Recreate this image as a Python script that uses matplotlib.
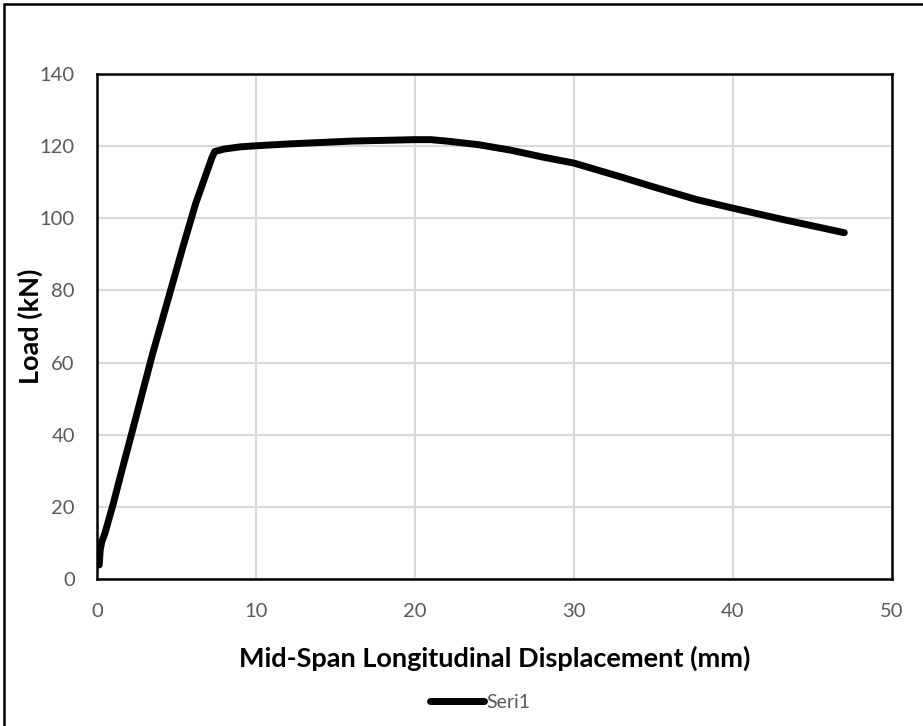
import matplotlib.pyplot as plt
from matplotlib.patches import Rectangle

# displacement (mm) and load (kN)
disp = [0.14, 0.2, 0.3, 0.5, 1.0, 1.5, 2.4, 3.5, 4.5, 5.4, 6.2, 6.8, 7.1, 7.2, 7.4,
        8.0, 9.0, 10.0, 12.0, 14.0, 16.0, 18.0, 20.0, 21.0, 22.0, 24.0, 26.0,
        28.0, 30.0, 33.0, 35.0, 37.7, 40.0, 43.0, 45.0, 47.0]
load = [3.9, 8.0, 10.3, 12.7, 20.5, 29.0, 44.0, 62.5, 78.0, 92.0, 104.0, 111.5,
        115.2, 116.5, 118.5, 119.2, 119.8, 120.1, 120.6, 121.0, 121.4, 121.6,
        121.8, 121.8, 121.4, 120.4, 118.9, 117.0, 115.3, 111.4, 108.7, 105.2,
        102.8, 99.8, 97.9, 96.0]

xticks = [0, 10, 20, 30, 40, 50]
yticks = [0, 20, 40, 60, 80, 100, 120, 140]

plt.rcParams['font.family'] = ['Lato', 'DejaVu Sans']

fig = plt.figure(figsize=(9.23, 7.26), dpi=100)
ax = fig.add_axes([97 / 923, 1 - 579 / 726, 795 / 923, 505 / 726])

line, = ax.plot(disp, load, color='black', linewidth=5, solid_capstyle='round',
                solid_joinstyle='round', label='Seri1')

ax.set_xlim(0, 50)
ax.set_ylim(0, 140)
ax.set_xticks(xticks)
ax.set_yticks(yticks)
ax.grid(True, color='#d9d9d9', linewidth=1.5)
ax.set_axisbelow(True)
ax.tick_params(length=0, labelsize=14.5, labelcolor='#595959')
ax.tick_params(axis='y', pad=16)
ax.tick_params(axis='x', pad=17)
for s in ax.spines.values():
    s.set_color('black')
    s.set_linewidth(1.8)

ax.set_xlabel('Mid-Span Longitudinal Displacement (mm)', fontsize=19.5,
              fontweight='bold', va='center')
ax.xaxis.set_label_coords(0.5, (579 - 658) / 505)
ax.set_ylabel('Load (kN)', fontsize=19.5, fontweight='bold', va='center')
ax.yaxis.set_label_coords((30 - 97) / 795, 0.5)

fig.legend(handles=[line], loc='center', bbox_to_anchor=(480 / 923, 1 - 702 / 726),
           frameon=False, fontsize=14, labelcolor='#595959', handlelength=2.8,
           handletextpad=0.1)

# outer chart border
fig.patches.append(Rectangle((4 / 923, -0.01), 1.0, 1 - 4 / 726 + 0.01,
                             transform=fig.transFigure, fill=False,
                             edgecolor='black', linewidth=1.8))

fig.savefig('out.png', dpi=100)
